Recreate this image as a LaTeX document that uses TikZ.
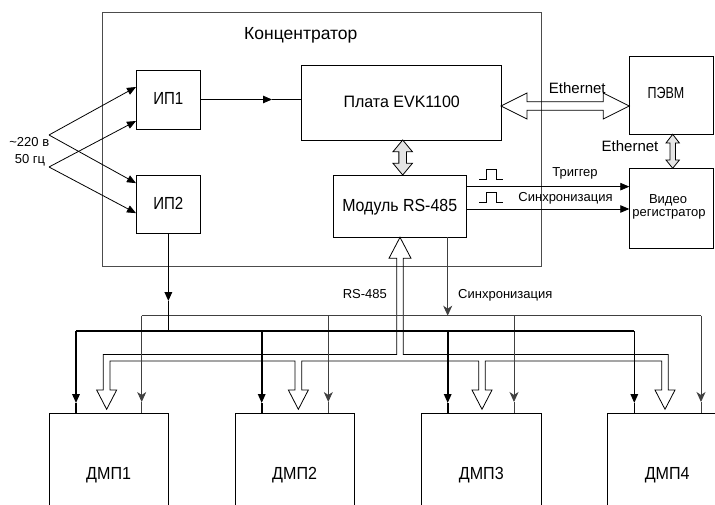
\documentclass[tikz,border=0pt]{standalone}
\usepackage{fontspec}
\setmainfont{Liberation Sans}
\usetikzlibrary{arrows.meta,calc}
\newcommand\fsz[1]{\fontsize{#1}{#1}\selectfont}
\newcommand\cnd[2]{\scalebox{#1}[1]{#2}}
\tikzset{
  box/.style={draw=black, line width=0.8pt, inner sep=0pt, outer sep=0pt},
  lbl/.style={inner sep=0pt, anchor=base},
  thinl/.style={line width=0.8pt},
  syncl/.style={draw=black!75, line width=0.9pt},
  pwr/.style={line width=1.6pt},
  tri/.style={-{Triangle[length=9pt,width=7.5pt]}},
  stl/.style={-{Stealth[length=10pt,width=9pt,inset=3pt]}},
  dbl/.style={draw=black, line width=0.8pt, line join=miter},
}
\begin{document}
\begin{tikzpicture}[x=1pt,y=-1pt]
\clip (0,0) rectangle (715,505);
% ---------- boxes
\node[box, draw=black!70, minimum width=439pt, minimum height=253.3pt] (conc) at (321.5,139.35) {};
\node[box, minimum width=64.7pt, minimum height=59pt] (ip1) at (168.35,99.5) {};
\node[box, minimum width=64.7pt, minimum height=58.3pt] (ip2) at (168.35,204.15) {};
\node[box, minimum width=199.3pt, minimum height=75pt] (plate) at (401.35,102.5) {};
\node[box, minimum width=132.7pt, minimum height=62.3pt] (mod) at (399.65,206.15) {};
\node[box, minimum width=84.2pt, minimum height=78.3pt] (pc) at (671.4,95.15) {};
\node[box, minimum width=84.2pt, minimum height=80pt] (vid) at (671.4,208.3) {};
\foreach \n/\x in {d1/108.65,d2/294.65,d3/481.35,d4/667.2}
  \node[box, minimum width=119.5pt, minimum height=120pt] (\n) at (\x,473.3) {};
% ---------- texts
\node[lbl, font=\fsz{17.5}] (tconc) at (300.8,40) {Концентратор};
\node[lbl, font=\fsz{17.5}] (tip1) at (168.35,105) {\cnd{0.86}{ИП1}};
\node[lbl, font=\fsz{17.5}] (tip2) at (168.35,209.3) {\cnd{0.86}{ИП2}};
\node[lbl, font=\fsz{16.5}] (tplate) at (401.7,107.7) {\cnd{0.97}{Плата EVK1100}};
\node[lbl, font=\fsz{17.5}] (tmod) at (399.7,211.7) {\cnd{0.91}{Модуль RS-485}};
\node[lbl, font=\fsz{16}] (tpc) at (666,99) {\cnd{0.78}{ПЭВМ}};
\node[lbl, font=\fsz{13}] (tvid1) at (668,203.3) {Видео};
\node[lbl, font=\fsz{13}] (tvid2) at (669,217) {регистратор};
\node[lbl, font=\fsz{15}] (teth1) at (577.3,93.3) {Ethernet};
\node[lbl, font=\fsz{15}] (teth2) at (630,151.7) {Ethernet};
\node[lbl, font=\fsz{13}] (ttrig) at (575,176.7) {Триггер};
\node[lbl, font=\fsz{13}] (tsync1) at (565.5,201.7) {Синхронизация};
\node[lbl, font=\fsz{13}] (tsync2) at (505.3,298.3) {Синхронизация};
\node[lbl, font=\fsz{13}] (trs) at (364.8,298.3) {RS-485};
\node[lbl, font=\fsz{13}] (tv1) at (29.3,146.7) {\textasciitilde220 в};
\node[lbl, font=\fsz{13}] (tv2) at (30,163.3) {50 гц};
\foreach \n/\t in {d1/ДМП1,d2/ДМП2,d3/ДМП3,d4/ДМП4}
  \node[lbl, font=\fsz{17.5}] at ([yshift=-6pt]\n.center) {\cnd{0.92}{\t}};
% ---------- mains supply
\coordinate (src1) at (49,135);
\coordinate (src2) at (49,167);
\draw[thinl,tri] (src1) -- ([yshift=12.5pt]ip1.west);
\draw[thinl,tri] (src1) -- ([yshift=21pt]ip2.west);
\draw[thinl,tri] (src2) -- ([yshift=-21.5pt]ip1.west);
\draw[thinl,tri] (src2) -- ([yshift=-9pt]ip2.west);
% ИП1 -> плата
\coordinate (m1) at (272,99.5);
\draw[thinl,tri] (ip1.east) -- (m1);
\draw[thinl] (m1) -- (m1 -| plate.west);
% ---------- double arrows
\draw[dbl, fill=black!10] (402.7,140) -- (412.4,151.7) -- (406.55,151.7) -- (406.55,163.3) -- (412.4,163.3)
  -- (402.7,175) -- (393,163.3) -- (398.85,163.3) -- (398.85,151.7) -- (393,151.7) -- cycle;
\draw[dbl, fill=black!10] (672.7,134.3) -- (679.4,143) -- (675.4,143) -- (675.4,160) -- (679.4,160)
  -- (672.7,168.3) -- (666,160) -- (670,160) -- (670,143) -- (666,143) -- cycle;
\draw[dbl] (501,106) -- (527,93) -- (527,101.8) -- (603.3,101.8) -- (603.3,93) -- (629.3,106)
  -- (603.3,119) -- (603.3,110.2) -- (527,110.2) -- (527,119) -- cycle;
% ---------- trigger / sync to video
\draw[thinl,tri] ([yshift=19.5pt]mod.east) coordinate (ta) -- (ta -| vid.west);
\draw[thinl,tri] ([yshift=-2.85pt]mod.east) coordinate (tb) -- (tb -| vid.west);
\draw[thinl] (479.3,179.3) -- (486.7,179.3) -- (486.7,169.3) -- (496,169.3) -- (496,179.3) -- (502.7,179.3);
\draw[thinl] (479.3,202.7) -- (486.7,202.7) -- (486.7,192.7) -- (496,192.7) -- (496,202.7) -- (502.7,202.7);
% ---------- RS-485 hollow bus
\draw[thinl, line join=miter]
 (396.7,258.3) -- (396.7,354.5) -- (103.3,354.5) -- (103.3,390) -- (96.65,390) -- (106.65,409.3)
 -- (116.65,390) -- (110,390) -- (110,361) -- (295,361) -- (295,390) -- (288.35,390) -- (298.35,409.3)
 -- (308.35,390) -- (301.7,390) -- (301.7,361) -- (478.7,361) -- (478.7,390) -- (472,390) -- (482,409.3)
 -- (492,390) -- (485.3,390) -- (485.3,361) -- (661.7,361) -- (661.7,390) -- (655,390) -- (665,409.3)
 -- (675,390) -- (668.3,390) -- (668.3,354.5) -- (403.3,354.5) -- (403.3,258.3) -- (411,258.3)
 -- (400,237.3) -- (389,258.3) -- cycle;
% ---------- sync bus
\draw[syncl,stl] (mod.south -| 447.7,0) -- (447.7,315.7);
\draw[syncl] (141.7,315.7) -- (701,315.7);
\foreach \x/\n in {141.7/d1,328.3/d2,514/d3,701/d4}{
  \draw[syncl,stl] (\x,315.7) -- (\x,402);
  \draw[syncl] (\x,402) -- (\x,402 |- \n.north);
}
% ---------- power bus
\coordinate (pm) at (168.35,301);
\draw[pwr,tri] (ip2.south) -- (pm);
\draw[pwr] (pm) -- (168.35,331);
\draw[pwr] (76,331) -- (634.3,331);
\foreach \x/\n in {76/d1,261.7/d2,447.7/d3,634.3/d4}{
  \draw[pwr,tri] (\x,331) -- (\x,403);
  \draw[pwr] (\x,403) -- (\x,403 |- \n.north);
}
\end{tikzpicture}
\end{document}
